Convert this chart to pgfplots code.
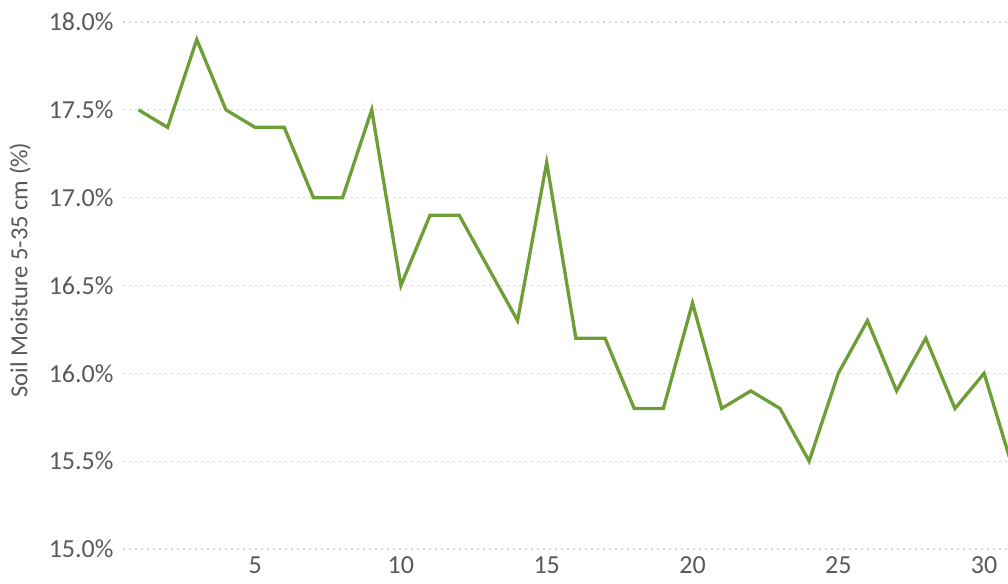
\documentclass[border=0pt]{standalone}
\usepackage{pgfplots}
\pgfplotsset{compat=1.18}
\usepackage{fontspec}
\setmainfont{Carlito}
\definecolor{lgreen}{HTML}{6E9E36}
\definecolor{tgray}{HTML}{595959}
\definecolor{ggray}{HTML}{D4D4D4}
\begin{document}
\begin{tikzpicture}[x=1pt,y=1pt]
\useasboundingbox (0,0) rectangle (1008,583);
\begin{axis}[
  at={(123pt,34pt)}, anchor=south west,
  scale only axis, width=885pt, height=527pt,
  xmin=0.47, xmax=30.82, ymin=15, ymax=18,
  axis line style={draw=none},
  xtick={5,10,15,20,25,30},
  ytick={15,15.5,16,16.5,17,17.5,18},
  yticklabel={\pgfmathprintnumber[fixed,fixed zerofill,precision=1]{\tick}\%},
  /pgf/number format/assume math mode=true,
  ymajorgrids, grid style={ggray, line width=1.3pt, dash pattern=on 1.6pt off 4.4pt},
  major tick length=0pt,
  ticklabel style={font=\fontsize{26}{26}\selectfont, text=tgray},
  yticklabel style={anchor=east, xshift=-6pt},
  xticklabel style={anchor=north, yshift=-4pt},
  ylabel={Soil Moisture 5-35 cm (\%)},
  every axis y label/.style={at={(-103pt,279pt)}, anchor=center, rotate=90,
    font=\fontsize{24.5}{24.5}\selectfont, text=tgray},
  clip=true,
]
\addplot[lgreen, line width=3.3pt, line join=miter] coordinates {
(1,17.5)(2,17.4)(3,17.9)(4,17.5)(5,17.4)(6,17.4)(7,17.0)(8,17.0)(9,17.5)(10,16.5)
(11,16.9)(12,16.9)(13,16.6)(14,16.3)(15,17.2)(16,16.2)(17,16.2)(18,15.8)(19,15.8)(20,16.4)
(21,15.8)(22,15.9)(23,15.8)(24,15.5)(25,16.0)(26,16.3)(27,15.9)(28,16.2)(29,15.8)(30,16.0)
(31,15.45)
};
\end{axis}
\end{tikzpicture}
\end{document}
